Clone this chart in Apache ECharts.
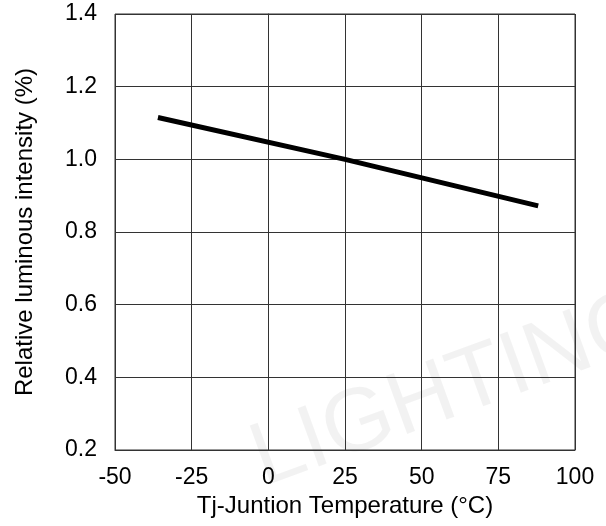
<!DOCTYPE html>
<html>
<head>
<meta charset="utf-8">
<script src="https://cdn.jsdelivr.net/npm/echarts@6/dist/echarts.min.js"></script>
<style>
  html, body { margin: 0; padding: 0; background: #fff; }
  #chart { width: 606px; height: 526px; }
</style>
</head>
<body>
<div id="chart"></div>
<script>
// curve: temperature (°C) vs relative intensity
const temps = [-36, 25, 88]
const intensity = [1.115, 1.0, 0.872]

const xTicks = [-50, -25, 0, 25, 50, 75, 100]
const yTicks = [0.2, 0.4, 0.6, 0.8, 1.0, 1.2, 1.4]

const font = 'Liberation Sans, Arial, sans-serif'
const chart = echarts.init(document.getElementById('chart'), null, { renderer: 'canvas' })

chart.setOption({
  backgroundColor: '#fff',
  animation: false,
  graphic: [
    {
      type: 'text',
      left: 240,
      top: 275,
      rotation: 0.35,
      silent: true,
      z: -1,
      style: { text: 'LIGHTING', fontSize: 90, fontFamily: font, fill: 'rgba(0,0,0,0.05)' },
    },
  ],
  grid: { left: 115, right: 31, top: 14, bottom: 76, show: true, borderColor: '#333', borderWidth: 1 },
  xAxis: {
    type: 'value',
    min: xTicks[0],
    max: xTicks[xTicks.length - 1],
    interval: 25,
    name: 'Tj-Juntion Temperature (°C)',
    nameLocation: 'middle',
    nameGap: 38,
    nameTextStyle: { fontFamily: font, fontSize: 24, color: '#000' },
    axisLine: { show: true, lineStyle: { color: '#333', width: 1 } },
    axisTick: { show: false },
    axisLabel: { fontFamily: font, fontSize: 23, color: '#000', margin: 16 },
    splitLine: { show: true, lineStyle: { color: '#333', width: 1 } },
  },
  yAxis: {
    type: 'value',
    min: yTicks[0],
    max: yTicks[yTicks.length - 1],
    interval: 0.2,
    name: 'Relative luminous intensity (%)',
    nameLocation: 'middle',
    nameGap: 78,
    nameTextStyle: { fontFamily: font, fontSize: 24, color: '#000' },
    axisLine: { show: true, lineStyle: { color: '#333', width: 1 } },
    axisTick: { show: false },
    axisLabel: {
      fontFamily: font,
      fontSize: 23,
      color: '#000',
      margin: 18,
      formatter: (v) => v.toFixed(1),
    },
    splitLine: { show: true, lineStyle: { color: '#333', width: 1 } },
  },
  series: [
    {
      type: 'line',
      data: temps.map((t, i) => [t, intensity[i]]),
      symbol: 'none',
      lineStyle: { color: '#000', width: 5 },
    },
  ],
})
</script>
</body>
</html>
